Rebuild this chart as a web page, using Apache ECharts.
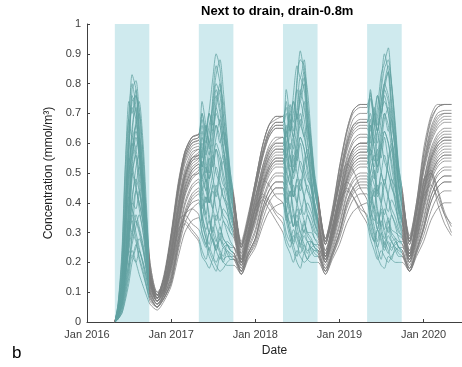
<!DOCTYPE html>
<html>
<head>
<meta charset="utf-8">
<script src="https://cdn.jsdelivr.net/npm/echarts@6/dist/echarts.min.js"></script>
<style>
  html, body { margin: 0; padding: 0; background: #fff; }
  #chart { width: 462px; height: 367px; }
</style>
</head>
<body>
<div id="chart"></div>
<script>
// Sampling dates shared by every simulated run (half-monthly during the growing season)
const dates = [
  '2016-05-01','2016-05-15','2016-06-01','2016-06-15','2016-07-01','2016-07-15','2016-08-01','2016-08-15','2016-09-01','2016-09-15','2016-10-01','2016-11-01','2016-12-01',
  '2017-01-01','2017-02-01','2017-03-01','2017-04-01','2017-05-01','2017-05-15','2017-06-01','2017-06-15','2017-07-01','2017-07-15','2017-08-01','2017-08-15','2017-09-01','2017-09-15','2017-10-01','2017-11-01','2017-12-01',
  '2018-01-01','2018-02-01','2018-03-01','2018-04-01','2018-05-01','2018-05-15','2018-06-01','2018-06-15','2018-07-01','2018-07-15','2018-08-01','2018-08-15','2018-09-01','2018-09-15','2018-10-01','2018-11-01','2018-12-01',
  '2019-01-01','2019-02-01','2019-03-01','2019-04-01','2019-05-01','2019-05-15','2019-06-01','2019-06-15','2019-07-01','2019-07-15','2019-08-01','2019-08-15','2019-09-01','2019-09-15','2019-10-01','2019-11-01','2019-12-01',
  '2020-01-01','2020-02-01','2020-03-01','2020-04-01','2020-05-01'
];

// Growing seasons (shaded)
const seasons = [
  ['2016-05-01', '2016-09-28'],
  ['2017-05-01', '2017-09-28'],
  ['2018-05-01', '2018-09-28'],
  ['2019-05-01', '2019-09-28']
];

const yTicks = [0, 0.1, 0.2, 0.3, 0.4, 0.5, 0.6, 0.7, 0.8, 0.9, 1];
const xStart = '2016-01-01';
const xEnd = '2020-06-16';

// Concentration runs (mmol/m3), one value per sampling date
const s01 = [0,.05,.18,.40,.66,.83,.78,.62,.42,.24,.14,.09,.16, .30,.47,.57,.62,.63,.70,.64,.71,.82,.90,.85,.70,.58,.48,.40,.26,.35, .47,.59,.66,.69,.69,.62,.73,.67,.80,.91,.83,.70,.57,.47,.40,.28,.37, .51,.63,.70,.72,.72,.77,.66,.72,.83,.87,.92,.79,.63,.50,.42,.28,.40, .56,.67,.72,.73,.73];
const s02 = [0,.03,.12,.30,.55,.78,.81,.70,.50,.30,.16,.09,.15, .28,.44,.55,.60,.61,.66,.58,.63,.74,.83,.88,.78,.62,.50,.41,.25,.33, .45,.56,.63,.66,.66,.70,.64,.76,.86,.82,.88,.74,.60,.48,.41,.27,.36, .48,.59,.65,.67,.67,.70,.62,.69,.78,.85,.88,.80,.66,.52,.44,.27,.38, .52,.62,.67,.69,.69];
const s03 = [0,.06,.20,.45,.70,.80,.72,.56,.38,.22,.13,.08,.14, .27,.43,.54,.59,.60,.55,.66,.60,.70,.78,.72,.64,.55,.44,.37,.24,.32, .44,.55,.62,.65,.65,.58,.68,.62,.72,.82,.78,.66,.55,.45,.38,.26,.34, .46,.57,.63,.65,.65,.60,.70,.64,.74,.80,.84,.72,.60,.46,.39,.26,.36, .50,.60,.65,.67,.67];
const s04 = [0,.02,.10,.25,.45,.65,.72,.62,.45,.28,.15,.08,.13, .25,.40,.50,.56,.58,.52,.47,.56,.64,.72,.66,.58,.50,.42,.36,.23,.31, .42,.52,.58,.61,.62,.55,.50,.60,.70,.66,.74,.62,.50,.40,.35,.24,.32, .44,.54,.60,.62,.62,.56,.52,.64,.70,.74,.70,.62,.52,.42,.36,.24,.34, .47,.57,.62,.64,.64];
const s05 = [0,.03,.09,.20,.38,.58,.66,.70,.55,.35,.18,.09,.12, .23,.38,.49,.55,.57,.60,.52,.48,.55,.62,.68,.60,.48,.40,.34,.22,.30, .40,.50,.57,.60,.60,.64,.55,.50,.58,.66,.62,.56,.46,.38,.33,.23,.31, .42,.52,.58,.60,.60,.66,.58,.52,.60,.68,.72,.62,.50,.40,.35,.23,.32, .45,.55,.60,.62,.62];
const s06 = [0,.04,.14,.32,.52,.60,.55,.45,.33,.22,.12,.07,.12, .22,.37,.48,.54,.56,.48,.52,.44,.50,.58,.54,.48,.42,.36,.32,.21,.29, .39,.49,.55,.58,.58,.50,.56,.48,.54,.62,.58,.50,.44,.37,.32,.22,.30, .41,.51,.56,.58,.58,.50,.56,.50,.58,.64,.60,.52,.44,.37,.33,.22,.31, .43,.53,.58,.60,.60];
const s07 = [0,.02,.07,.16,.30,.48,.58,.62,.50,.32,.17,.08,.11, .21,.35,.46,.52,.54,.58,.50,.55,.48,.44,.52,.56,.46,.38,.33,.21,.28, .37,.47,.53,.56,.56,.60,.52,.56,.50,.46,.54,.58,.48,.40,.34,.22,.29, .39,.49,.55,.57,.57,.62,.54,.58,.50,.46,.55,.60,.48,.40,.34,.22,.30, .42,.52,.57,.59,.59];
const s08 = [0,.05,.16,.36,.55,.52,.46,.38,.30,.20,.11,.07,.11, .20,.34,.45,.51,.53,.46,.40,.48,.56,.50,.46,.42,.38,.33,.30,.20,.27, .36,.46,.52,.55,.55,.48,.42,.50,.58,.52,.48,.44,.40,.34,.30,.21,.28, .38,.48,.54,.56,.56,.48,.42,.52,.60,.54,.50,.46,.40,.34,.30,.21,.29, .40,.50,.55,.57,.57];
const s09 = [0,.01,.05,.12,.25,.40,.52,.56,.48,.34,.18,.09,.11, .19,.33,.44,.50,.52,.44,.48,.40,.46,.52,.47,.42,.40,.35,.31,.20,.27, .35,.45,.51,.54,.54,.46,.50,.42,.48,.54,.50,.44,.42,.36,.31,.21,.28, .37,.47,.52,.54,.54,.46,.51,.44,.50,.56,.50,.45,.42,.36,.31,.21,.28, .39,.49,.54,.56,.56];
const s10 = [0,.03,.10,.22,.40,.50,.45,.40,.34,.24,.13,.07,.10, .18,.32,.43,.49,.51,.56,.48,.42,.38,.44,.40,.36,.34,.30,.28,.19,.26, .34,.44,.50,.53,.53,.58,.50,.44,.40,.46,.42,.38,.35,.31,.28,.20,.27, .36,.46,.51,.53,.53,.58,.50,.44,.40,.46,.42,.38,.35,.31,.28,.20,.27, .38,.48,.53,.55,.55];
const s11 = [0,.02,.06,.14,.26,.36,.44,.40,.33,.25,.14,.08,.10, .17,.31,.42,.48,.50,.42,.36,.44,.38,.34,.40,.45,.38,.32,.29,.19,.26, .33,.43,.49,.52,.52,.44,.38,.46,.40,.36,.42,.46,.40,.33,.29,.20,.26, .35,.45,.50,.52,.52,.44,.38,.46,.40,.36,.43,.48,.40,.33,.29,.20,.27, .37,.47,.52,.54,.54];
const s12 = [0,.04,.12,.28,.42,.38,.34,.30,.24,.18,.10,.06,.09, .16,.29,.40,.46,.48,.40,.34,.30,.36,.32,.28,.34,.30,.27,.25,.18,.25, .31,.41,.47,.50,.50,.42,.36,.32,.38,.34,.30,.36,.32,.28,.26,.19,.25, .33,.43,.48,.50,.50,.42,.36,.31,.38,.34,.30,.36,.32,.28,.26,.19,.26, .35,.45,.50,.52,.52];
const s13 = [0,.01,.04,.10,.18,.26,.32,.36,.30,.22,.12,.07,.09, .15,.28,.39,.45,.47,.38,.42,.34,.30,.36,.32,.28,.26,.24,.23,.17,.24, .30,.40,.46,.49,.49,.40,.44,.36,.32,.38,.34,.30,.28,.25,.24,.18,.24, .32,.42,.47,.49,.49,.40,.44,.36,.32,.38,.34,.30,.28,.25,.24,.18,.25, .34,.44,.49,.51,.51];
const s14 = [0,.02,.08,.18,.30,.34,.28,.24,.20,.15,.09,.05,.08, .14,.26,.37,.43,.45,.36,.30,.26,.32,.28,.24,.22,.26,.24,.23,.17,.23, .28,.38,.44,.47,.47,.38,.32,.27,.34,.30,.26,.23,.27,.25,.23,.17,.23, .30,.40,.45,.47,.47,.38,.32,.27,.34,.30,.26,.24,.27,.25,.23,.17,.24, .32,.42,.47,.49,.49];
const s15 = [0,.01,.03,.07,.13,.20,.25,.28,.24,.17,.10,.06,.08, .13,.25,.35,.41,.43,.34,.28,.24,.21,.26,.23,.20,.24,.22,.21,.16,.22, .27,.36,.42,.45,.45,.36,.30,.26,.22,.28,.24,.21,.25,.23,.22,.16,.22, .29,.38,.43,.45,.45,.36,.30,.25,.21,.27,.24,.21,.25,.23,.22,.17,.23, .31,.40,.45,.47,.47];
const s16 = [0,.02,.06,.12,.20,.24,.20,.16,.12,.09,.06,.04,.07, .12,.22,.30,.34,.35,.30,.26,.22,.19,.17,.22,.20,.19,.19,.19,.16,.21, .25,.32,.37,.39,.40,.34,.28,.24,.20,.18,.23,.21,.20,.20,.20,.16,.21, .26,.33,.37,.39,.40,.33,.27,.22,.19,.18,.22,.21,.20,.20,.20,.17,.22, .27,.34,.38,.40,.40];
const s17 = [0,.02,.07,.15,.24,.30,.27,.22,.17,.12,.08,.05,.09, .18,.28,.33,.30,.27,.22,.20,.18,.21,.19,.17,.18,.20,.21,.21,.18,.26, .35,.41,.38,.34,.30,.26,.23,.20,.24,.22,.20,.21,.23,.24,.24,.20,.30, .40,.45,.42,.37,.33,.28,.24,.21,.24,.22,.20,.22,.24,.25,.25,.21,.32, .44,.50,.40,.33,.29];
const s18 = [0,.03,.09,.20,.32,.36,.30,.25,.19,.13,.08,.05,.10, .20,.31,.34,.31,.28,.24,.21,.25,.22,.20,.23,.21,.22,.22,.22,.19,.28, .38,.42,.40,.36,.33,.28,.25,.29,.26,.23,.26,.24,.25,.26,.26,.22,.32, .42,.47,.45,.40,.35,.30,.27,.31,.27,.24,.27,.25,.26,.27,.27,.23,.34, .47,.51,.45,.37,.32];
const s19 = [0,.04,.14,.33,.58,.74,.76,.64,.46,.28,.15,.09,.15, .29,.45,.56,.61,.62,.74,.66,.60,.68,.76,.70,.62,.56,.47,.40,.26,.34, .46,.57,.64,.67,.67,.78,.68,.62,.70,.78,.72,.64,.56,.46,.40,.27,.35, .49,.60,.66,.67,.67,.75,.68,.64,.72,.78,.74,.66,.58,.47,.40,.27,.37, .53,.64,.69,.70,.70];
const s20 = [0,.03,.11,.26,.48,.62,.58,.50,.40,.27,.14,.08,.12, .24,.39,.49,.55,.56,.50,.44,.52,.60,.66,.62,.55,.47,.39,.34,.22,.30, .41,.51,.57,.60,.60,.52,.46,.54,.62,.70,.64,.56,.48,.40,.34,.23,.31, .43,.53,.58,.60,.60,.54,.48,.56,.64,.70,.66,.58,.48,.40,.35,.23,.32, .46,.56,.61,.63,.63];
const s21 = [0,.01,.04,.09,.17,.30,.45,.52,.46,.36,.20,.10,.11, .20,.34,.45,.51,.53,.48,.44,.40,.46,.42,.50,.54,.44,.37,.32,.21,.28, .36,.46,.52,.55,.55,.50,.46,.42,.48,.44,.52,.56,.46,.38,.33,.22,.29, .38,.48,.53,.55,.55,.50,.46,.42,.50,.46,.54,.58,.46,.38,.33,.22,.30, .41,.51,.56,.58,.58];
const s22 = [0,.05,.22,.50,.74,.70,.78,.66,.48,.30,.16,.09,.15, .28,.44,.55,.60,.61,.56,.66,.58,.76,.86,.80,.66,.54,.45,.38,.25,.33, .45,.56,.63,.66,.66,.60,.70,.64,.82,.88,.86,.68,.54,.44,.38,.26,.35, .47,.58,.64,.66,.66,.62,.72,.66,.80,.90,.84,.70,.56,.45,.38,.26,.36, .51,.61,.66,.68,.68];
const s23 = [0,.03,.08,.16,.24,.22,.26,.21,.16,.12,.07,.05,.08, .13,.24,.33,.38,.40,.33,.28,.24,.28,.24,.21,.25,.23,.21,.21,.16,.22, .26,.34,.40,.43,.43,.36,.30,.26,.30,.26,.23,.27,.24,.22,.22,.17,.22, .28,.36,.41,.43,.43,.35,.29,.25,.30,.26,.23,.27,.24,.22,.22,.17,.23, .29,.37,.42,.44,.44];
const s24 = [0,.02,.07,.17,.34,.52,.62,.56,.42,.30,.16,.08,.11, .22,.36,.47,.53,.55,.62,.54,.48,.54,.60,.56,.50,.44,.38,.33,.21,.29, .38,.48,.54,.57,.57,.64,.56,.50,.56,.62,.58,.52,.45,.38,.33,.22,.30, .40,.50,.55,.57,.57,.66,.58,.52,.58,.64,.60,.54,.46,.38,.33,.22,.31, .44,.54,.59,.61,.61];
const s25 = [0,.02,.05,.11,.20,.28,.34,.31,.25,.18,.10,.06,.10, .19,.30,.36,.38,.36,.30,.26,.30,.27,.24,.28,.26,.27,.26,.25,.20,.29, .38,.43,.41,.37,.35,.30,.27,.31,.28,.25,.29,.27,.27,.26,.25,.21,.30, .40,.44,.42,.38,.36,.31,.27,.31,.28,.25,.29,.27,.28,.27,.26,.22,.33, .42,.46,.42,.36,.33];
const s26 = [0,.03,.13,.34,.60,.76,.70,.58,.42,.26,.14,.08,.14, .29,.46,.57,.62,.63,.58,.64,.70,.66,.74,.80,.70,.58,.48,.41,.27,.36, .47,.59,.66,.68,.69,.64,.70,.74,.68,.76,.82,.72,.60,.49,.41,.28,.38, .52,.64,.71,.73,.73,.64,.70,.76,.70,.78,.84,.74,.62,.50,.42,.29,.40, .58,.69,.73,.73,.73];
const s27 = [0,.04,.16,.38,.62,.72,.68,.60,.44,.27,.14,.08,.15, .29,.46,.57,.62,.63,.68,.60,.66,.72,.80,.76,.66,.57,.47,.40,.26,.35, .47,.59,.66,.69,.69,.72,.64,.70,.78,.74,.80,.68,.58,.48,.41,.28,.37, .52,.64,.71,.73,.73,.76,.70,.64,.74,.80,.76,.68,.60,.49,.42,.28,.39, .56,.68,.72,.73,.73];
const s28 = [0,.01,.06,.15,.32,.50,.56,.48,.36,.24,.13,.07,.11, .22,.37,.48,.54,.55,.44,.36,.30,.38,.46,.40,.34,.32,.30,.29,.20,.28, .38,.49,.55,.58,.58,.46,.38,.32,.40,.48,.42,.36,.33,.30,.29,.20,.28, .40,.51,.57,.59,.59,.46,.38,.31,.40,.48,.42,.36,.33,.30,.29,.20,.29, .43,.54,.59,.61,.61];
const s29 = [0,.02,.08,.20,.40,.62,.76,.72,.56,.36,.18,.09,.13, .26,.42,.53,.58,.59,.52,.60,.70,.64,.72,.78,.74,.60,.50,.42,.25,.33, .44,.55,.62,.65,.65,.56,.64,.74,.68,.76,.84,.78,.62,.50,.42,.26,.35, .47,.59,.66,.68,.68,.58,.66,.76,.70,.80,.86,.80,.64,.52,.44,.27,.37, .52,.63,.68,.70,.70];
const s30 = [0,.03,.10,.22,.34,.30,.36,.32,.26,.19,.11,.06,.09, .15,.27,.36,.40,.41,.34,.42,.36,.30,.27,.32,.28,.26,.24,.23,.17,.23, .28,.37,.42,.45,.45,.37,.44,.38,.32,.28,.33,.29,.27,.25,.24,.18,.23, .30,.39,.44,.46,.46,.38,.45,.38,.32,.28,.34,.29,.27,.25,.24,.18,.24, .31,.40,.45,.47,.47];
const s31 = [0,.04,.13,.30,.50,.56,.64,.58,.44,.30,.15,.08,.12, .23,.38,.49,.55,.56,.64,.56,.60,.52,.58,.50,.46,.44,.38,.33,.21,.29, .39,.50,.56,.59,.59,.66,.58,.62,.54,.60,.52,.48,.45,.38,.33,.22,.30, .41,.52,.58,.60,.60,.68,.60,.64,.55,.62,.54,.48,.45,.38,.34,.22,.31, .44,.55,.60,.62,.62];
const s32 = [0,.02,.06,.14,.28,.42,.48,.44,.36,.26,.14,.07,.11, .24,.34,.36,.33,.31,.28,.25,.30,.27,.24,.28,.25,.26,.25,.25,.20,.30, .42,.48,.46,.42,.40,.34,.38,.32,.36,.30,.34,.30,.30,.28,.27,.22,.34, .46,.53,.51,.45,.41,.35,.39,.33,.37,.31,.35,.31,.30,.29,.28,.23,.36, .48,.50,.44,.36,.30];
const s33 = [0,.06,.24,.52,.68,.62,.66,.54,.40,.25,.13,.08,.14, .28,.45,.56,.61,.62,.70,.62,.56,.62,.70,.66,.58,.52,.45,.39,.25,.34, .46,.57,.64,.67,.67,.74,.64,.58,.66,.74,.68,.60,.52,.45,.39,.27,.36, .49,.61,.68,.70,.70,.78,.66,.60,.68,.76,.70,.62,.54,.46,.40,.27,.38, .54,.65,.70,.71,.71];
const s34 = [0,.02,.07,.16,.28,.40,.38,.44,.36,.26,.14,.07,.10, .19,.33,.43,.49,.50,.54,.46,.40,.44,.38,.34,.38,.36,.33,.30,.20,.27, .35,.45,.51,.54,.54,.56,.48,.42,.46,.40,.36,.40,.37,.33,.30,.21,.27, .37,.47,.53,.55,.55,.58,.50,.43,.47,.41,.37,.41,.38,.34,.31,.21,.28, .39,.49,.54,.56,.56];
const s35 = [0,.03,.08,.19,.36,.54,.68,.74,.60,.40,.20,.10,.13, .25,.40,.51,.57,.58,.52,.58,.50,.58,.66,.60,.64,.52,.43,.37,.23,.31, .41,.52,.59,.62,.62,.55,.60,.52,.60,.68,.62,.66,.54,.44,.37,.24,.32, .43,.55,.61,.63,.63,.56,.62,.54,.62,.70,.64,.68,.56,.45,.38,.24,.33, .47,.58,.63,.65,.65];
const s36 = [0,.01,.03,.08,.15,.22,.20,.24,.20,.15,.09,.05,.08, .14,.26,.36,.42,.44,.36,.31,.34,.28,.25,.30,.26,.24,.23,.22,.17,.23, .28,.38,.44,.47,.47,.38,.33,.36,.29,.26,.31,.27,.25,.24,.23,.17,.23, .30,.40,.45,.48,.48,.39,.34,.37,.30,.26,.32,.27,.25,.24,.23,.18,.24, .32,.42,.47,.49,.49];

const runs = [s01,s02,s03,s04,s05,s06,s07,s08,s09,s10,s11,s12,s13,s14,s15,s16,s17,s18,
              s19,s20,s21,s22,s23,s24,s25,s26,s27,s28,s29,s30,s31,s32,s33,s34,s35,s36];

const GRAY = '#7c7c7c';
const TEAL = '#5fa0a0';
const BAND = '#cfeaee';
const INK = '#404040';
const FONT = 'Liberation Sans, Arial, sans-serif';

// Date string -> decimal year
function toYear(s) {
  const [y, m, d] = s.split('-').map(Number);
  const a = Date.UTC(y, 0, 1), b = Date.UTC(y + 1, 0, 1);
  return y + (Date.UTC(y, m - 1, d) - a) / (b - a);
}

const xs = dates.map(toYear);

const lineSeries = runs.map((vals, k) => ({
  type: 'line',
  name: 'run' + (k + 1),
  data: vals.map((v, i) => [xs[i], v]),
  showSymbol: false,
  smooth: 0.25,
  lineStyle: { width: 0.75 },
  z: 3,
  silent: true
}));

const bandSeries = {
  type: 'line',
  data: [],
  z: 1,
  silent: true,
  markArea: {
    silent: true,
    itemStyle: { color: BAND },
    data: seasons.map(s => [{ xAxis: toYear(s[0]) }, { xAxis: toYear(s[1]) }])
  }
};

const chart = echarts.init(document.getElementById('chart'), null, { renderer: 'canvas' });
chart.setOption({
  animation: false,
  backgroundColor: '#fff',
  grid: { left: 87, top: 24, right: 0, bottom: 45, containLabel: false },
  xAxis: {
    type: 'value',
    min: toYear(xStart),
    max: toYear(xEnd),
    interval: 0.5,
    name: 'Date',
    nameLocation: 'middle',
    nameGap: 22,
    nameTextStyle: { fontFamily: FONT, fontSize: 12, color: '#222' },
    axisLine: { lineStyle: { color: INK, width: 1 } },
    axisTick: { inside: true, length: 3, lineStyle: { color: INK } },
    axisLabel: {
      fontFamily: FONT, fontSize: 11, color: INK, margin: 7,
      showMaxLabel: false,
      formatter: v => (Math.abs(v - Math.round(v)) < 1e-6 ? 'Jan ' + Math.round(v) : '')
    },
    splitLine: { show: false }
  },
  yAxis: {
    type: 'value',
    min: yTicks[0],
    max: yTicks[yTicks.length - 1],
    interval: 0.1,
    name: 'Concentration (mmol/m³)',
    nameLocation: 'middle',
    nameGap: 26,
    nameTextStyle: { fontFamily: FONT, fontSize: 12, color: '#222' },
    axisLine: { show: true, lineStyle: { color: INK, width: 1 } },
    axisTick: { show: true, inside: true, length: 3, lineStyle: { color: INK } },
    axisLabel: {
      fontFamily: FONT, fontSize: 11, color: INK, margin: 6,
      formatter: v => String(Math.round(v * 10) / 10)
    },
    splitLine: { show: false }
  },
  visualMap: {
    type: 'piecewise',
    show: false,
    dimension: 0,
    seriesIndex: lineSeries.map((_, i) => i + 1),
    pieces: seasons.map(s => ({ gte: toYear(s[0]), lte: toYear(s[1]), color: TEAL })),
    outOfRange: { color: GRAY }
  },
  graphic: [
    {
      type: 'text', left: 277 - 76, top: 5,
      style: { text: 'Next to drain, drain-0.8m', fontFamily: FONT, fontSize: 13, fontWeight: 'bold', fill: '#000' }
    },
    {
      type: 'text', left: 12, top: 345,
      style: { text: 'b', fontFamily: FONT, fontSize: 17, fill: '#000' }
    }
  ],
  series: [bandSeries].concat(lineSeries)
});
</script>
</body>
</html>
